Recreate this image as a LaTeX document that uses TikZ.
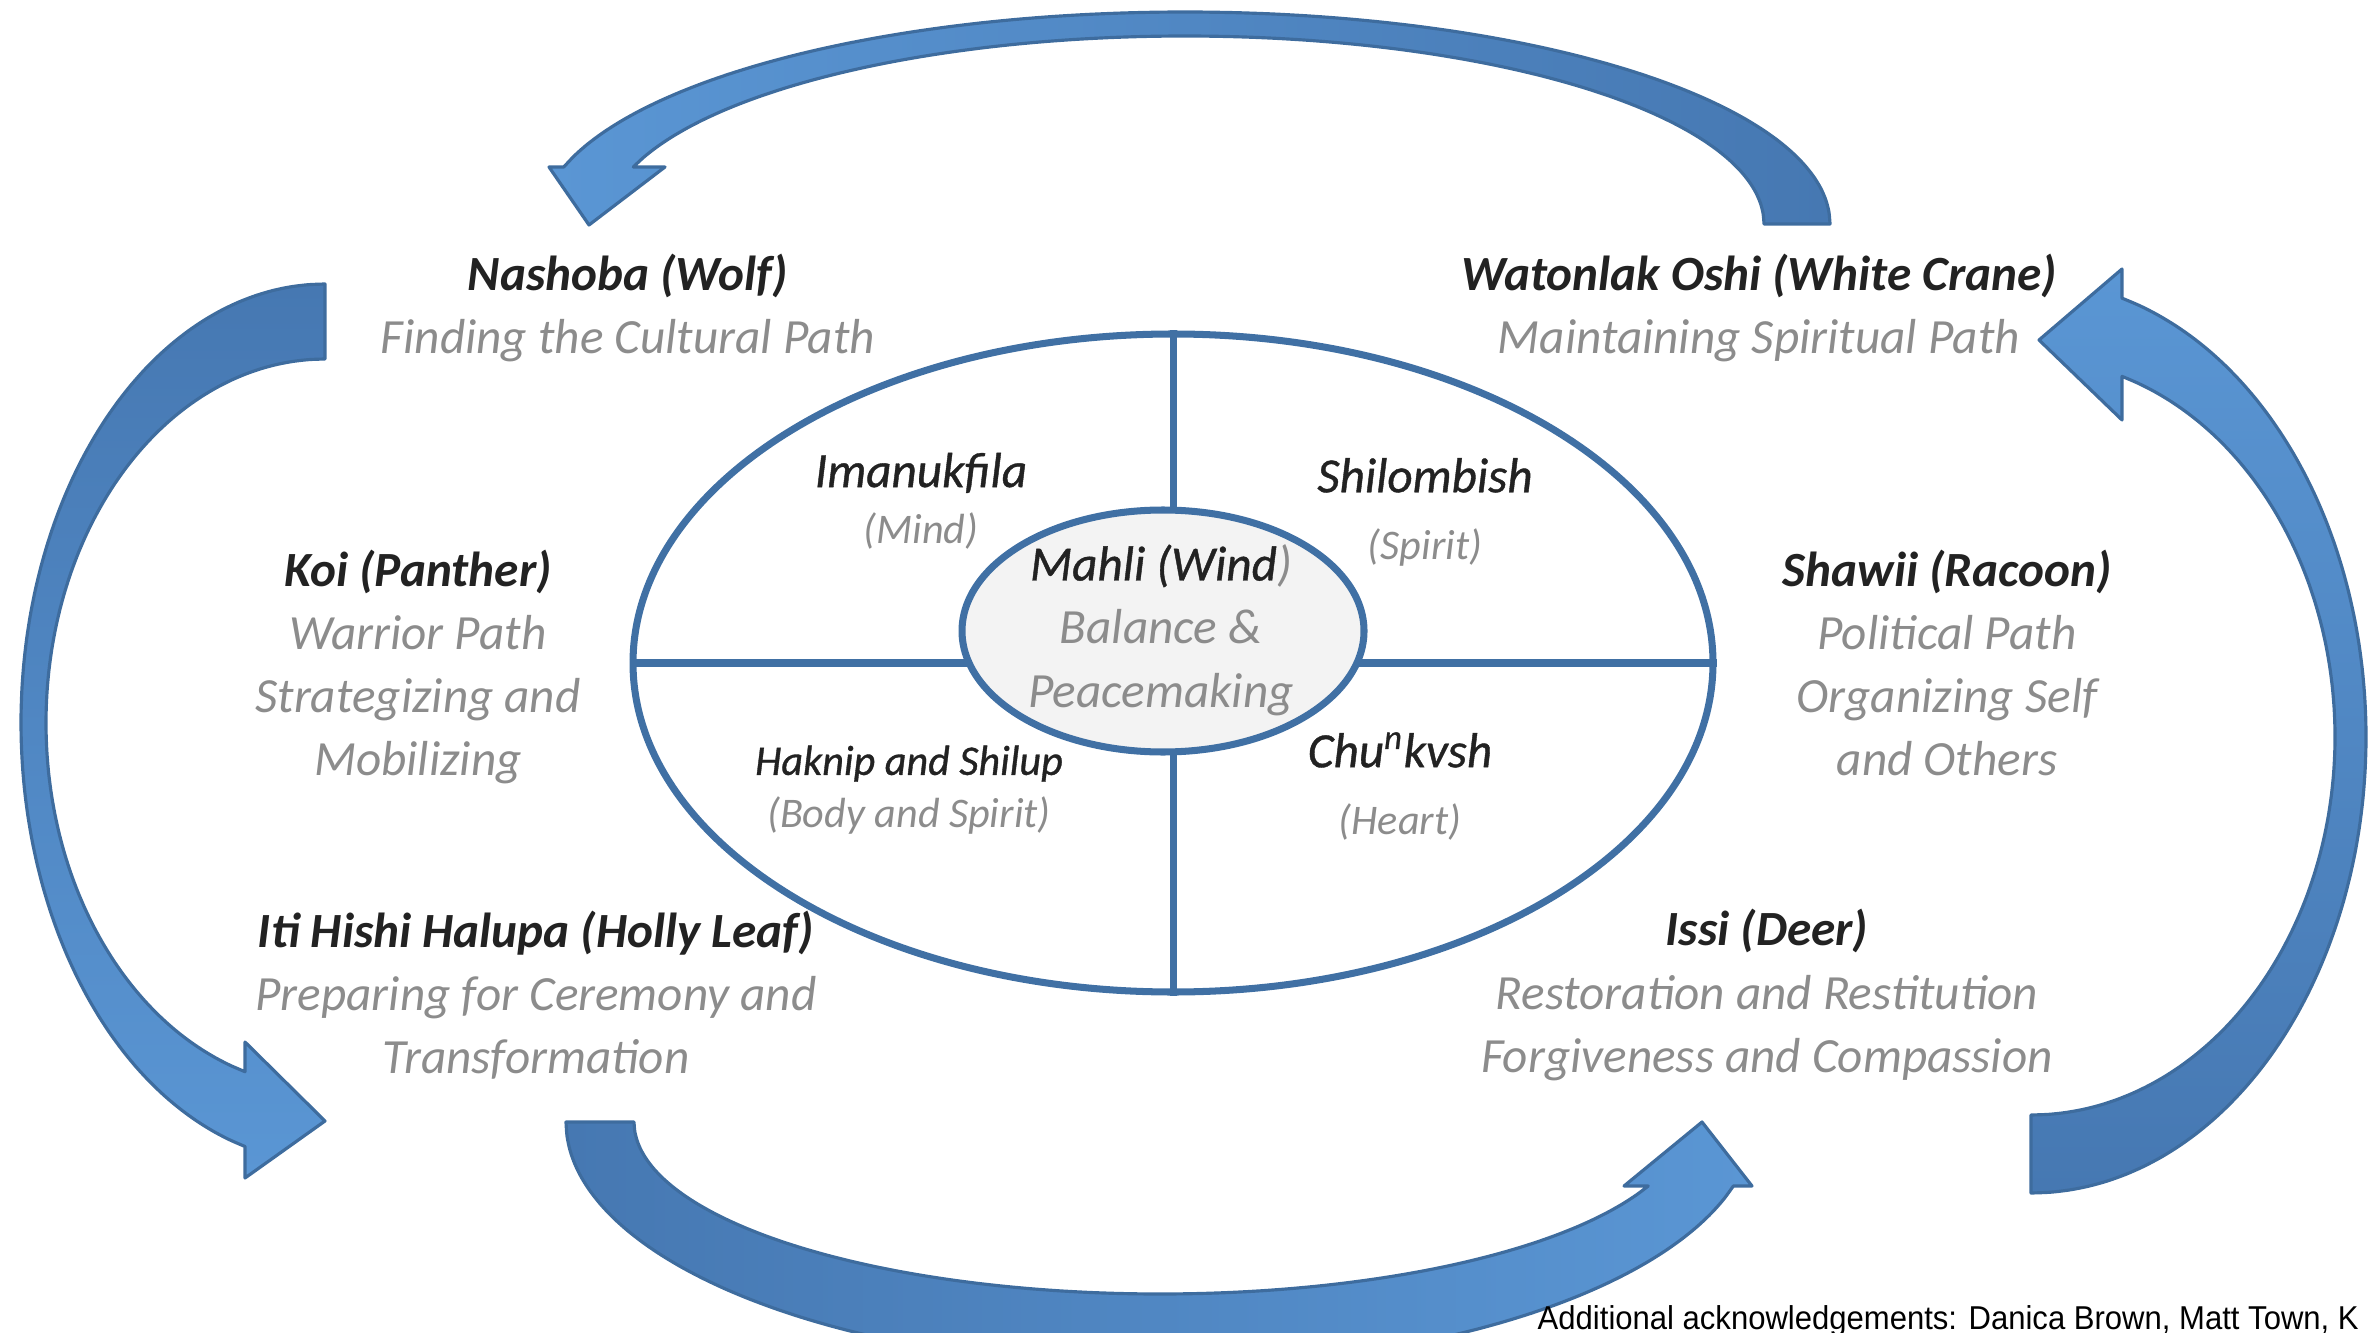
\documentclass[tikz,border=0pt]{standalone}
\usepackage{fontspec}
\setmainfont{Carlito}
\newfontfamily\medfont[FakeBold=0.8]{Carlito}
\newfontfamily\notefont[FakeStretch=0.94]{Liberation Sans}
\usetikzlibrary{shapes.geometric}
\definecolor{ringblue}{RGB}{64,112,164}
\definecolor{arrowdark}{RGB}{70,120,178}
\definecolor{arrowlight}{RGB}{90,150,212}
\definecolor{arrowedge}{RGB}{62,108,158}
\definecolor{namegray}{RGB}{34,34,34}
\definecolor{pathgray}{RGB}{140,140,140}
\definecolor{hubgray}{RGB}{243,243,243}
\newcommand{\animal}[1]{{\color{namegray}\bfseries #1}}
\newcommand{\aspect}[1]{{\color{namegray}\medfont\itshape #1}}
\begin{document}
\begin{tikzpicture}[x=0.1mm,y=-0.1mm,
    band/.style={draw=arrowedge,line width=0.9pt,line join=round},
    ring/.style={draw=ringblue,line width=2pt},
    label/.style={align=center,text=pathgray,font=\itshape\fontsize{14}{18}\selectfont},
    small/.style={align=center,text=pathgray,font=\itshape\fontsize{12}{15}\selectfont}]
\useasboundingbox (0,0) rectangle (2368,1333);

% the four curved arrows
\draw[band,left color=arrowlight,right color=arrowdark]
  plot[variable=\t,domain=0:164.4,smooth,samples=51] ({1185+645*cos(\t)},{224-212*sin(\t)})
  -- (549,167) -- (589,225) -- (665,167)
  -- plot[variable=\t,domain=162.35:0,smooth,samples=51] ({1185+579*cos(\t)},{224-188*sin(\t)})
  -- cycle;
\draw[band,top color=arrowdark,bottom color=arrowlight]
  plot[variable=\t,domain=90:254.75,smooth,samples=51] ({325+304*cos(\t)},{723-439*sin(\t)})
  -- (245,1178) -- (325,1121) -- (245,1042)
  -- plot[variable=\t,domain=253.34:90,smooth,samples=51] ({325+279*cos(\t)},{723-364*sin(\t)})
  -- cycle;
\draw[band,left color=arrowdark,right color=arrowlight]
  plot[variable=\t,domain=180:344.86,smooth,samples=51] ({1160+594*cos(\t)},{1122-245*sin(\t)})
  -- (1752,1186) -- (1702,1122) -- (1624,1186)
  -- plot[variable=\t,domain=338.15:180,smooth,samples=51] ({1160+526*cos(\t)},{1122-172*sin(\t)})
  -- cycle;
\draw[band,bottom color=arrowdark,top color=arrowlight]
  plot[variable=\t,domain=-90:74.24,smooth,samples=51] ({2031+335*cos(\t)},{737-456*sin(\t)})
  -- (2122,269) -- (2039,340) -- (2122,420)
  -- plot[variable=\t,domain=72.58:-90,smooth,samples=51] ({2031+304*cos(\t)},{737-378*sin(\t)})
  -- cycle;

% the wheel
\node[ring,ellipse,minimum width=108mm,minimum height=65.8mm,inner sep=0pt] (wheel) at (1173,663) {};
\draw[ring] (wheel.north) -- (wheel.south);
\draw[ring] (wheel.west) -- (wheel.east);
\node[ring,ellipse,fill=hubgray,minimum width=40.2mm,minimum height=24.2mm,inner sep=0pt] (hub) at (1163,631) {};
\node[label] (wind) at (1161,630) {\aspect{Mahli (Wind}){}\\Balance \&\\Peacemaking};

\node[label] (mind) at (921,501) {\aspect{Imanukfila}\\[-2pt]{\fontsize{12}{15}\selectfont(Mind)}};
\node[label] (spirit) at (1425,512) {\aspect{Shilombish}\\[1pt]{\fontsize{12}{15}\selectfont(Spirit)}};
\node[small] (body) at (909,790) {\aspect{Haknip and Shilup}\\(Body and Spirit)};
\node[label] (heart) at (1400,786) {\aspect{Chu\textsuperscript{n}kvsh}\\[1pt]{\fontsize{12}{15}\selectfont(Heart)}};

% the six paths
\node[label] (wolf) at (628,308) {\animal{Nashoba (Wolf)}\\Finding the Cultural Path};
\node[label] (crane) at (1759,308) {\animal{Watonlak Oshi (White Crane)}\\Maintaining Spiritual Path};
\node[label] (panther) at (418,667) {\animal{Koi (Panther)}\\Warrior Path\\Strategizing and\\Mobilizing};
\node[label] (racoon) at (1947,663) {\animal{Shawii (Racoon)}\\Political Path\\Organizing Self\\and Others};
\node[label] (holly) at (536,995) {\animal{Iti Hishi Halupa (Holly Leaf)}\\Preparing for Ceremony and\\Transformation};
\node[label] (deer) at (1767,995) {\animal{Issi (Deer)}\\Restoration and Restitution\\Forgiveness and Compassion};

\node[anchor=base west,inner sep=0pt,font=\notefont\fontsize{9.4}{11}\selectfont] (credits) at (1537,1329)
  {Additional acknowledgements: Danica Brown, Matt Town, K};
\end{tikzpicture}
\end{document}
